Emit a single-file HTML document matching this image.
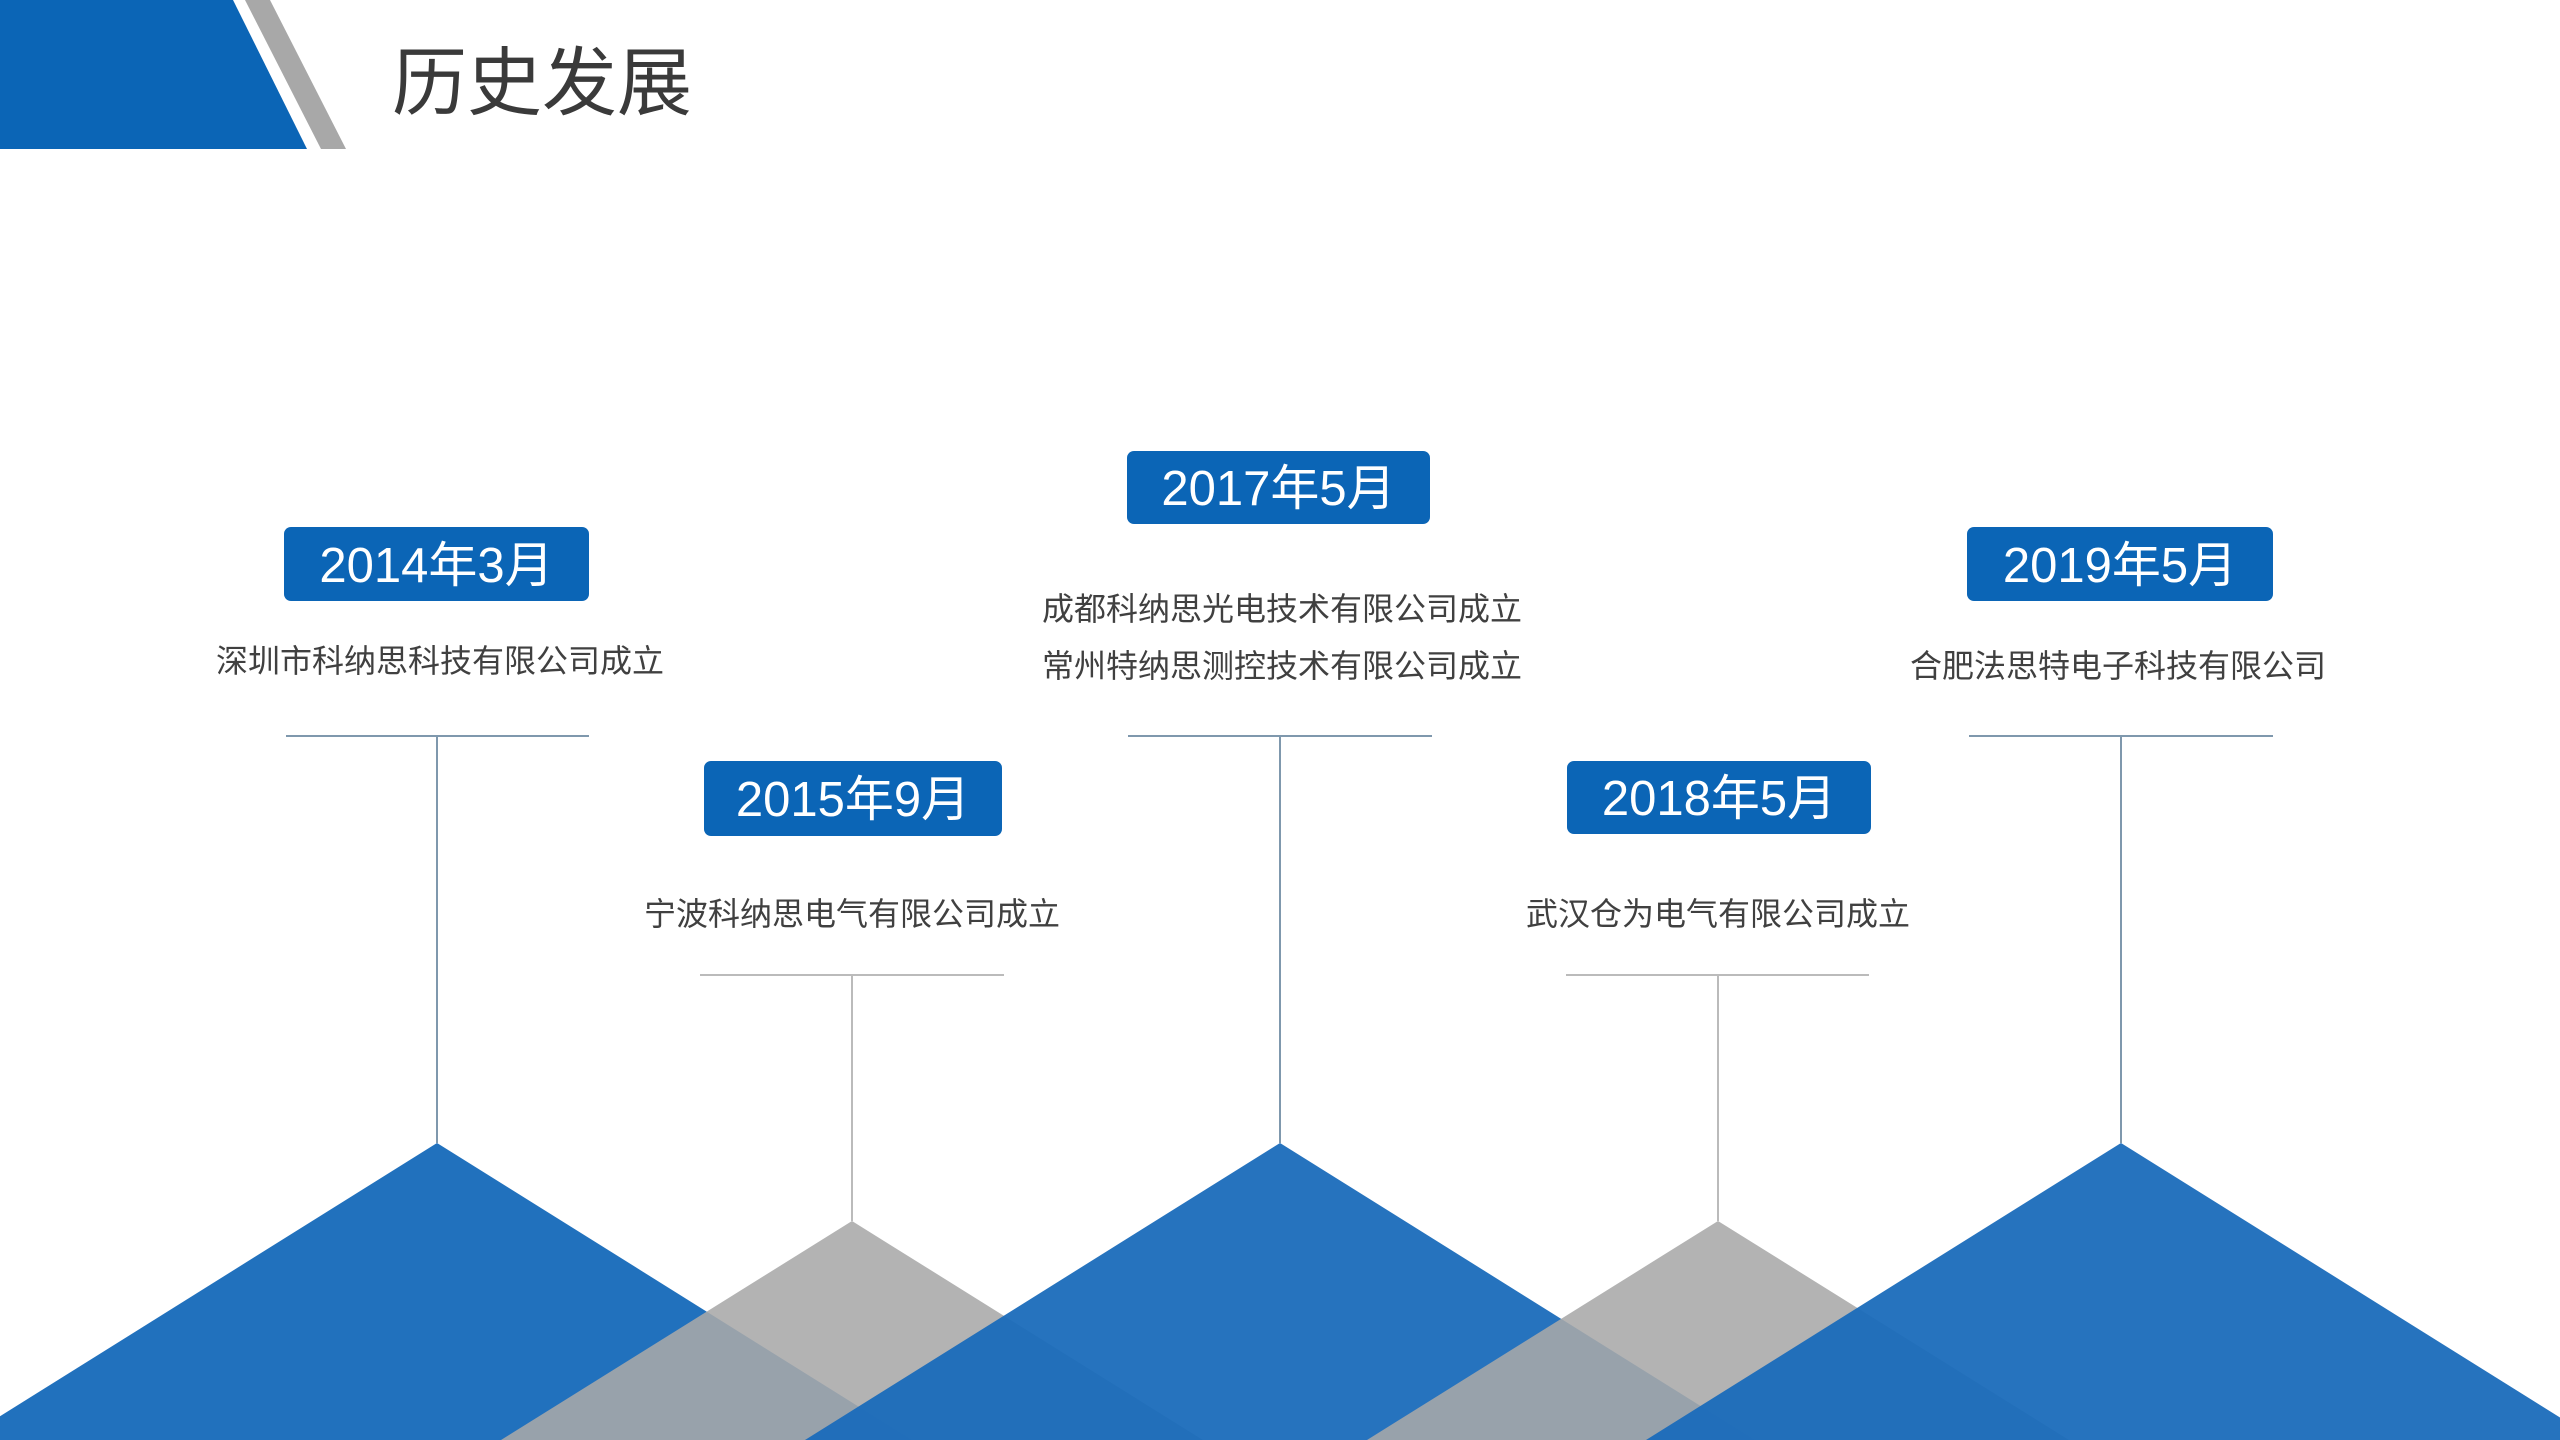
<!DOCTYPE html>
<html><head><meta charset="utf-8"><style>
html,body{margin:0;padding:0;width:2560px;height:1440px;background:#fff;overflow:hidden;position:relative;font-family:"Liberation Sans","Noto Sans CJK SC",sans-serif}
.t{position:absolute;left:392px;top:38px;font-size:75px;color:#3a3a3a;line-height:90px}
.d{position:absolute;background:#0b65b6;color:#fff;border-radius:7px;font-size:49px;display:flex;align-items:center;justify-content:center;box-sizing:border-box;padding-bottom:6px}
.x{position:absolute;font-size:32px;color:#404040;white-space:nowrap;transform:translate(-50%,-50%);line-height:40px}
svg{position:absolute;left:0;top:0}
</style></head><body>
<svg width="2560" height="1440">
<polygon points="0,0 233,0 307,149 0,149" fill="#0b65b6"/>
<polygon points="245,0 270,0 346,149 321,149" fill="#a8a8a8"/>
<g stroke="#7f98ad" stroke-width="2">
<line x1="286" y1="736" x2="589" y2="736"/><line x1="437" y1="736" x2="437" y2="1143"/>
<line x1="700" y1="975" x2="1004" y2="975" stroke="#bbb"/><line x1="852" y1="975" x2="852" y2="1221" stroke="#bbb"/>
<line x1="1128" y1="736" x2="1432" y2="736"/><line x1="1280" y1="736" x2="1280" y2="1143"/>
<line x1="1566" y1="975" x2="1869" y2="975" stroke="#bbb"/><line x1="1718" y1="975" x2="1718" y2="1221" stroke="#bbb"/>
<line x1="1969" y1="736" x2="2273" y2="736"/><line x1="2121" y1="736" x2="2121" y2="1143"/>
</g>
<polygon points="437,1143 912,1440 -38,1440" fill="#1a6cbb" fill-opacity="0.97"/>
<polygon points="852,1221 1203,1440 501,1440" fill="#a9a9a9" fill-opacity="0.88"/>
<polygon points="1280,1143 1755,1440 805,1440" fill="#1a6cbb" fill-opacity="0.95"/>
<polygon points="1718,1221 2069,1440 1367,1440" fill="#a9a9a9" fill-opacity="0.88"/>
<polygon points="2121,1143 2596,1440 1646,1440" fill="#1a6cbb" fill-opacity="0.95"/>
</svg>
<div class="t">历史发展</div>
<div class="d" style="left:284px;top:527px;width:305px;height:74px">2014年3月</div>
<div class="d" style="left:704px;top:761px;width:298px;height:75px">2015年9月</div>
<div class="d" style="left:1127px;top:451px;width:303px;height:73px">2017年5月</div>
<div class="d" style="left:1567px;top:761px;width:304px;height:73px">2018年5月</div>
<div class="d" style="left:1967px;top:527px;width:306px;height:74px">2019年5月</div>
<div class="x" style="left:440px;top:661px">深圳市科纳思科技有限公司成立</div>
<div class="x" style="left:852px;top:914px">宁波科纳思电气有限公司成立</div>
<div class="x" style="left:1282px;top:609px">成都科纳思光电技术有限公司成立</div>
<div class="x" style="left:1282px;top:666px">常州特纳思测控技术有限公司成立</div>
<div class="x" style="left:1718px;top:914px">武汉仓为电气有限公司成立</div>
<div class="x" style="left:2118px;top:666px">合肥法思特电子科技有限公司</div>
</body></html>
